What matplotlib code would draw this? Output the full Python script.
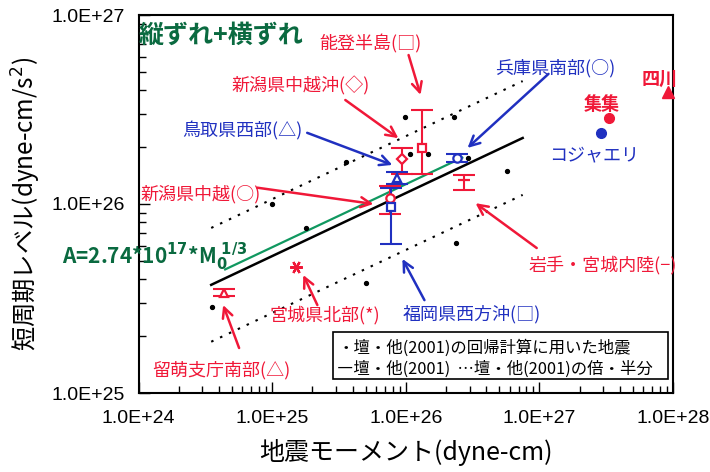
import matplotlib.pyplot as plt
import numpy as np
from matplotlib.patches import Rectangle
from matplotlib.ticker import FuncFormatter, NullFormatter

plt.rcParams['font.family'] = ['Noto Sans CJK JP', 'DejaVu Sans']
plt.rcParams['mathtext.fontset'] = 'dejavusans'

RED = '#f01838'
BLUE = '#2030c0'
GREEN = '#109860'
DKGREEN = '#0a6a40'

# 壇・他(2001) regression events
dan_m0 = [3.57e25, 1.0e25, 1.8e25, 3.52e24, 9.86e25, 2.29e26, 1.08e26, 1.46e26,
          2.94e26, 5.75e26, 2.36e26, 5.04e25]
dan_a = [1.66e26, 1.0e26, 7.43e25, 2.85e25, 2.87e26, 2.88e26, 1.84e26, 1.85e26,
         1.75e26, 1.50e26, 6.25e25, 3.82e25]

# regression A = c * M0^(1/3)
dan_coef = 2.46e17
dan_m0_range = (3.5e24, 7.5e26)
new_coef = 2.74e17
new_m0_range = (4.45e24, 2.65e26)

# domestic events: name, M0, A, A lower, A upper
quake_names = ['新潟県中越沖', '能登半島', '鳥取県西部', '新潟県中越', '福岡県西方沖',
               '兵庫県南部', '岩手・宮城内陸', '宮城県北部', '留萌支庁南部']
quake_m0 = [9.35e25, 1.33e26, 8.6e25, 7.59e25, 7.78e25, 2.43e26, 2.72e26, 1.52e25, 4.4e24]
quake_a = [1.72e26, 1.97e26, 1.37e26, 1.07e26, 9.62e25, 1.76e26, 1.34e26, 4.66e25, 3.4e25]
quake_a_lo = [1.44e26, 1.45e26, 1.27e26, 8.85e25, 6.12e25, 1.67e26, 1.19e26, 4.66e25, 3.26e25]
quake_a_hi = [1.99e26, 3.14e26, 1.47e26, 1.25e26, 1.22e26, 1.85e26, 1.42e26, 4.66e25, 3.55e25]

# overseas events
foreign_names = ['集集', 'コジャエリ', '四川']
foreign_m0 = [3.33e27, 2.88e27, 9.12e27]
foreign_a = [2.84e26, 2.38e26, 3.93e26]

quake_style = [(RED, 'D', 5), (RED, 's', 6), (BLUE, '^', 6), (RED, 'o', 6), (BLUE, 's', 6),
               (BLUE, 'o', 6), (RED, '_', 8), (RED, (6, 2, 30), 9), (RED, '^', 6)]

# label text, label position, arrow tail, arrow tip
callouts = [
    ('能登半島(□)', RED, (5.43e25, 7.03e26), (1.05e26, 6.14e26), (1.29e26, 3.78e26)),
    ('新潟県中越沖(◇)', RED, (1.63e25, 4.21e26), (3.53e25, 3.55e26), (8.81e25, 2.23e26)),
    ('鳥取県西部(△)', BLUE, (5.97e24, 2.43e26), (1.83e25, 2.38e26), (7.94e25, 1.61e26)),
    ('新潟県中越(○)', RED, (2.94e24, 1.13e26), (7.73e24, 1.22e26), (5.73e25, 1.0e26)),
    ('兵庫県南部(○)', BLUE, (1.32e27, 5.25e26), (1.17e27, 4.88e26), (2.90e26, 1.98e26)),
    ('岩手・宮城内陸(−)', RED, (2.98e27, 4.75e25), (9.55e26, 5.85e25), (3.33e26, 1.01e26)),
    ('福岡県西方沖(□)', BLUE, (3.10e26, 2.62e25), (1.38e26, 3.10e25), (9.44e25, 5.12e25)),
    ('宮城県北部(*)', RED, (2.50e25, 2.59e25), (2.18e25, 2.92e25), (1.71e25, 4.21e25)),
    ('留萌支庁南部(△)', RED, (4.15e24, 1.32e25), (5.66e24, 1.73e25), (4.30e24, 2.92e25)),
]
foreign_label_pos = [(2.93e27, 3.38e26), (2.55e27, 1.80e26), (7.98e27, 4.58e26)]

fig = plt.figure(figsize=(7.1, 4.72), dpi=100)
ax = fig.add_axes([138.5 / 710, 1 - 393 / 472, 534.5 / 710, 378 / 472])
ax.set_xscale('log')
ax.set_yscale('log')
ax.set_xlim(1e24, 1e28)
ax.set_ylim(1e25, 1e27)

# regression lines
m = np.logspace(*np.log10(dan_m0_range), 50)
ax.plot(m, dan_coef * m ** (1 / 3), color='black', lw=1.8, zorder=3)
ax.plot(m, 2 * dan_coef * m ** (1 / 3), color='black', lw=1.5, ls=(0, (1.2, 3.5)), zorder=3)
ax.plot(m, 0.5 * dan_coef * m ** (1 / 3), color='black', lw=1.5, ls=(0, (1.2, 3.5)), zorder=3)
m2 = np.logspace(*np.log10(new_m0_range), 50)
ax.plot(m2, new_coef * m2 ** (1 / 3), color=GREEN, lw=1.6, zorder=3)

ax.plot(dan_m0, dan_a, 'o', color='black', ms=2.8, zorder=4)

for i in range(len(quake_names)):
    c, mk, ms = quake_style[i]
    a = quake_a[i]
    yerr = [[a - quake_a_lo[i]], [quake_a_hi[i] - a]]
    if quake_a_hi[i] > quake_a_lo[i]:
        ax.errorbar([quake_m0[i]], [a], yerr=yerr, fmt='none', ecolor=c, elinewidth=1.5,
                    capsize=8, capthick=1.5, zorder=5)
    face = c if mk == '_' else 'white'
    ax.plot(quake_m0[i], a, marker=mk, ms=ms, mec=c, mfc=face, mew=1.6, ls='none', zorder=6)

ax.plot(foreign_m0[0], foreign_a[0], 'o', color=RED, ms=7, zorder=6)
ax.plot(foreign_m0[1], foreign_a[1], 'o', color=BLUE, ms=7, zorder=6)
ax.plot(foreign_m0[2], foreign_a[2], '^', color=RED, ms=9, zorder=6, clip_on=False)

for text, c, pos, tail, tip in callouts:
    ax.text(*pos, text, color=c, fontsize=13, ha='center', va='center')
    ax.annotate('', xy=tip, xytext=tail,
                arrowprops=dict(arrowstyle='->', color=c, lw=1.8, mutation_scale=18,
                                shrinkA=0, shrinkB=0))

for name, pos, c in zip(foreign_names, foreign_label_pos, [RED, BLUE, RED]):
    ax.text(*pos, name, color=c, fontsize=13, ha='center', va='center',
            fontweight='bold' if name != 'コジャエリ' else 'normal', clip_on=False)

ax.text(4.15e24, 7.74e26, '縦ずれ+横ずれ', color=DKGREEN, fontsize=18, fontweight='bold',
        ha='center', va='center')
fig.text(62 / 710, 1 - 257 / 472,
         r'A=2.74*10$^{\mathbf{17}}$*M$_{\mathbf{0}}^{\ \mathbf{1/3}}$',
         color=DKGREEN, fontsize=15, fontweight='bold', ha='left', va='center')

# legend box
ax.add_patch(Rectangle((0.363, 0.036), 0.628, 0.126, transform=ax.transAxes,
                       fill=True, fc='white', ec='black', lw=1.2, zorder=7))
ax.text(0.372, 0.118, '・壇・他(2001)の回帰計算に用いた地震', transform=ax.transAxes,
        fontsize=11.8, va='center', ha='left', zorder=8)
ax.text(0.372, 0.062, '―壇・他(2001)  …壇・他(2001)の倍・半分', transform=ax.transAxes,
        fontsize=11.8, va='center', ha='left', zorder=8)

ax.xaxis.set_major_formatter(FuncFormatter(lambda v, p: f'{v:.1E}'))
ax.yaxis.set_major_formatter(FuncFormatter(lambda v, p: f'{v:.1E}'))
ax.xaxis.set_minor_formatter(NullFormatter())
ax.yaxis.set_minor_formatter(NullFormatter())
ax.tick_params(which='both', direction='in', top=False, right=False, width=1,
               labelsize=14, labelfontfamily='Liberation Sans')
ax.tick_params(which='major', length=8)
ax.tick_params(which='minor', length=5)
ax.tick_params(axis='x', pad=12)
ax.tick_params(axis='y', pad=10)
for s in ax.spines.values():
    s.set_linewidth(1.5)

ax.set_xlabel('地震モーメント(dyne-cm)', fontsize=18, labelpad=9)
ax.set_ylabel('短周期レベル(dyne-cm/s$^2$)', fontsize=17.5, labelpad=6)

fig.savefig('out.png', dpi=100)
